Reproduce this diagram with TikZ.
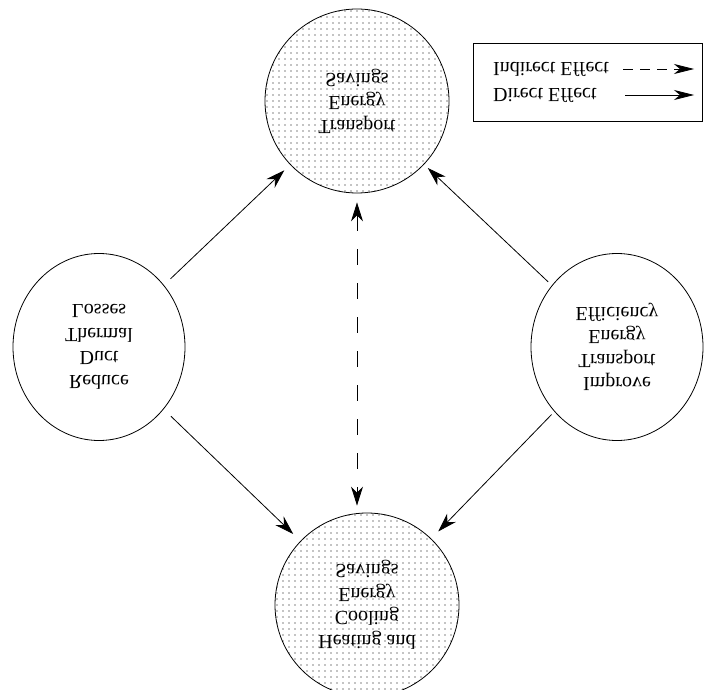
\documentclass[tikz,border=0pt]{standalone}
\usepackage{fontspec}
\setmainfont{Liberation Serif}
\usetikzlibrary{arrows.meta,shapes.geometric}
\tikzset{
  lw/.style={line width=0.8pt},
  bubble/.style={draw, lw, yscale=-1, align=center, inner sep=0pt,
    font=\fontsize{20}{23.5}\selectfont},
  dotted fill/.style={path picture={
      \foreach \i in {-17,...,17} \foreach \j in {-17,...,17}
        \fill (path picture bounding box.center) ++(\i*6pt,\j*6pt) circle (0.7pt);}},
  roundbub/.style={bubble, circle, minimum size=184pt},
  ovalbub/.style={bubble, ellipse, minimum width=172pt, minimum height=187pt},
  tip/.style={Stealth[length=19pt,width=12pt,inset=6pt]},
  arr/.style={lw, -{Stealth[length=19pt,width=12pt,inset=6pt]}},
  dblarr/.style={lw, {Stealth[length=19pt,width=12pt,inset=6pt]}-{Stealth[length=19pt,width=12pt,inset=6pt]}, dash pattern=on 16pt off 18pt},
  legarr/.style={lw, -{Stealth[length=20pt,width=10pt,inset=6pt]}},
  legtxt/.style={yscale=-1, anchor=west, inner sep=0pt, font=\fontsize{20}{24}\selectfont}
}
\begin{document}
\begin{tikzpicture}[x=1pt,y=-1pt]
\useasboundingbox (0,0) rectangle (704,690);
\node[roundbub, dotted fill] (nTop) at (357,101) {Transport\\Energy\\Savings};
\node[roundbub, dotted fill] (nBot) at (367,605) {Heating and\\Cooling\\Energy\\Savings};
\node[ovalbub] (nLeft) at (99,347) {Reduce\\Duct\\Thermal\\Losses};
\node[ovalbub] (nRight) at (617,347) {Improve\\Transport\\Energy\\Efficiency};

\draw[arr, shorten <=9pt, shorten >=8pt] (nLeft) -- (nTop);
\draw[arr, shorten <=10pt, shorten >=10pt] (nLeft) -- (nBot);
\draw[arr, shorten <=5pt, shorten >=5pt] (nRight) -- (nTop);
\draw[arr, shorten <=4pt, shorten >=10pt] (nRight) -- (nBot);
\draw[dblarr, shorten <=9pt, shorten >=7pt] (nTop.north) -- (nTop.north |- nBot.south);

\node[draw, lw, minimum width=229pt, minimum height=78pt, inner sep=0pt] (legend) at (587.5,82) {};
\node[legtxt] (tInd) at (493,69) {Indirect Effect};
\node[legtxt] (tDir) at (493,95) {Direct Effect};
\coordinate (a1) at (623,69);
\coordinate (b1) at (694,69);
\coordinate (a2) at (625,95);
\coordinate (b2) at (694,95);
\draw[legarr, dash pattern=on 10pt off 7pt] (a1) -- (b1);
\draw[legarr] (a2) -- (b2);
\end{tikzpicture}
\end{document}
